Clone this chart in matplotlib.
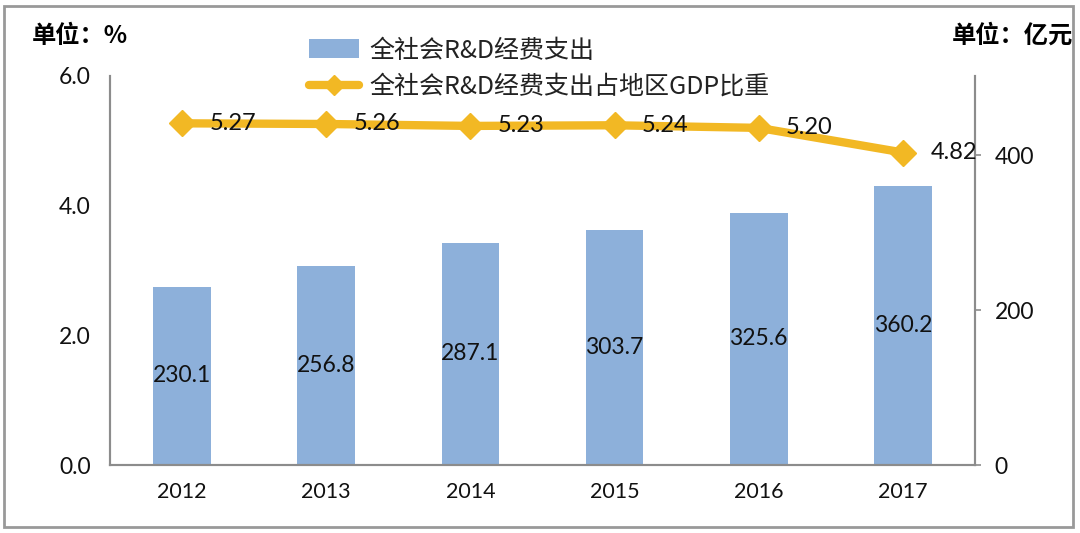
import numpy as np
import matplotlib.pyplot as plt
from matplotlib.patches import Rectangle

plt.rcParams['font.family'] = ['Lato', 'Noto Sans CJK SC', 'DejaVu Sans']

# Data
years = ['2012', '2013', '2014', '2015', '2016', '2017']
spending = [230.1, 256.8, 287.1, 303.7, 325.6, 360.2]   # 亿元
share = [5.27, 5.26, 5.23, 5.24, 5.20, 4.82]            # %

bar_color = '#8DB0DA'
line_color = '#F2B824'
axis_color = '#8C8C8C'
cjk = ['Noto Sans CJK SC', 'DejaVu Sans']

fig = plt.figure(figsize=(10.8, 5.33), dpi=100)
ax = fig.add_axes([110 / 1080, (533 - 465) / 533, 865 / 1080, 389 / 533])
ax2 = ax.twinx()

x = np.arange(len(years))

# bars on the right axis (亿元)
ax2.bar(x, spending, width=0.4, color=bar_color, zorder=2, label='全社会R&D经费支出')
for xi, v in zip(x, spending):
    ax2.text(xi, v / 2, f'{v:.1f}', ha='center', va='center', fontsize=16.5, color='#111111')

# line on the left axis (%)
ax.plot(x, share, color=line_color, lw=6, marker='D', ms=13, mec=line_color,
        zorder=5, solid_capstyle='round', label='全社会R&D经费支出占地区GDP比重')
for xi, v in zip(x, share):
    ax.text(xi + 0.19, v, f'{v:.2f}', ha='left', va='center', fontsize=17,
            color='#111111', zorder=6)

# line axes above bars
ax.set_zorder(ax2.get_zorder() + 1)
ax.patch.set_visible(False)

ax.set_xlim(-0.5, len(years) - 0.5)
ax.set_ylim(0, 6)
ax2.set_ylim(0, 502)
ax.set_yticks([0, 2, 4, 6])
ax.set_yticklabels(['0.0', '2.0', '4.0', '6.0'])
ax2.set_yticks([0, 200, 400])
ax.set_xticks(x)
ax.set_xticklabels(years)

for a in (ax, ax2):
    a.spines['top'].set_visible(False)
    for s in ('left', 'right', 'bottom'):
        a.spines[s].set_color(axis_color)
        a.spines[s].set_linewidth(1.5)

ax.tick_params(axis='y', length=0, pad=14, labelsize=16.5, colors='#111111')
ax.tick_params(axis='x', length=0, pad=12, labelsize=15.5, colors='#111111')
ax2.tick_params(axis='y', length=4, width=1.2, color=axis_color, pad=10,
                labelsize=16.5, labelcolor='#111111')

# unit labels
fig.text(32 / 1080, 1 - 36 / 533, '单位：%', fontsize=17.5, fontweight='bold',
         ha='left', va='center', family=cjk)
fig.text(1073 / 1080, 1 - 36 / 533, '单位：亿元', fontsize=17.5, fontweight='bold',
         ha='right', va='center', family=cjk)

# legend
h1, l1 = ax2.get_legend_handles_labels()
h2, l2 = ax.get_legend_handles_labels()
leg = fig.legend(h1 + h2, l1 + l2, loc='upper left',
                 bbox_to_anchor=(286 / 1080, 1 - 15 / 533),
                 frameon=False, handlelength=2.0, handleheight=0.8,
                 labelspacing=0.42, handletextpad=0.45, markerscale=0.8,
                 prop={'family': cjk, 'size': 18})
for t in leg.get_texts():
    t.set_color('#222222')

# outer border
fig.patches.append(Rectangle((4 / 1080, 6 / 533), 1069 / 1080, 521 / 533,
                             transform=fig.transFigure, fill=False,
                             edgecolor='#999999', linewidth=2))

fig.savefig('out.png', dpi=100)
